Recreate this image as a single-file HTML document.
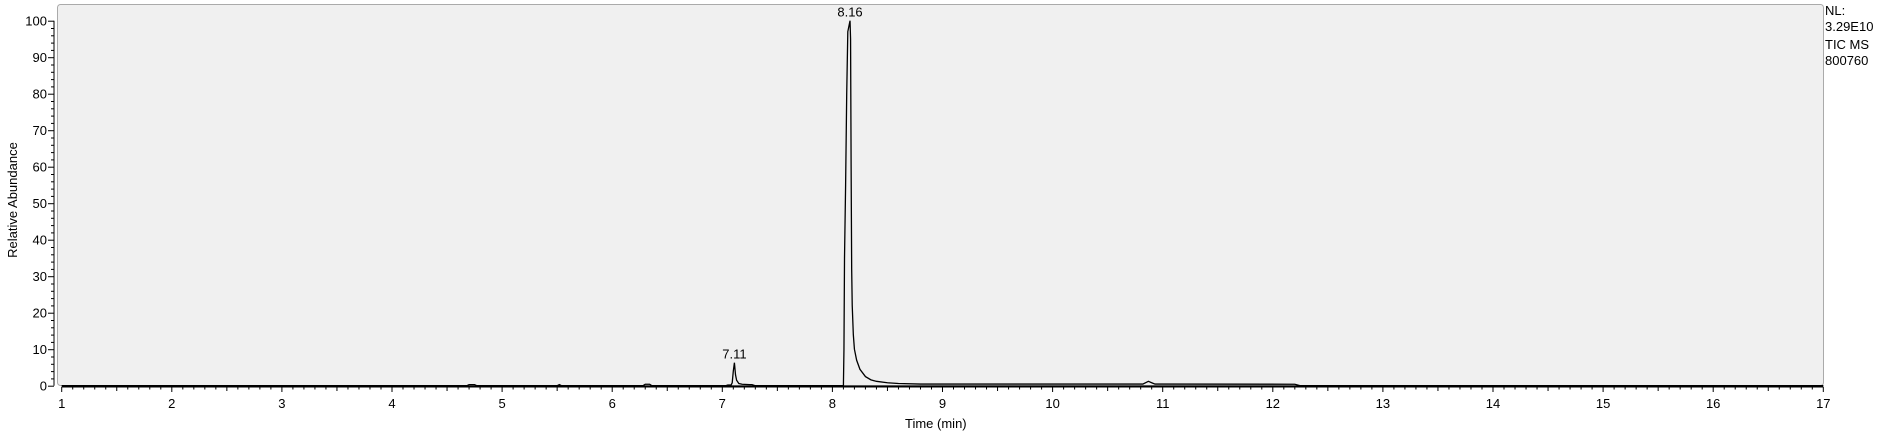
<!DOCTYPE html>
<html><head><meta charset="utf-8"><style>
html,body{margin:0;padding:0;background:#fff;}
svg{display:block;font-family:"Liberation Sans",Arial,sans-serif;}
</style></head><body>
<svg id="chart" width="1880" height="438" viewBox="0 0 1880 438" xmlns="http://www.w3.org/2000/svg">
<rect x="57.5" y="4.5" width="1766" height="381" rx="3" fill="#f0f0f0" stroke="#aaa" stroke-width="1"/>
<g id="yaxis"></g>
<g id="xaxis"></g>
<path id="trace" fill="none" stroke="#000" stroke-width="1.3"/>
<g id="labels"></g>
<text transform="translate(17,200) rotate(-90)" text-anchor="middle" font-size="13" fill="#000">Relative Abundance</text>
<text x="905" y="428" font-size="13" fill="#000">Time (min)</text>
<g font-size="13" fill="#000">
<text x="1825" y="15">NL:</text>
<text x="1825" y="31">3.29E10</text>
<text x="1825" y="49">TIC  MS</text>
<text x="1825" y="65">800760</text>
</g>
</svg>
<script>
const times = [1,4.68,4.70,4.72,4.75,4.77,5.50,5.52,5.54,6.28,6.30,6.34,6.36,7.03,7.05,7.08,7.09,7.10,7.11,7.12,7.13,7.15,7.18,7.25,7.27,7.30,8.10,8.105,8.11,8.12,8.13,8.14,8.16,8.165,8.17,8.175,8.18,8.19,8.20,8.22,8.25,8.30,8.35,8.40,8.50,8.60,8.80,10.82,10.85,10.87,10.90,10.93,12.20,12.25,17];
const values = [0,0,0.3,0.3,0.3,0,0,0.3,0,0,0.4,0.4,0,0,0.2,0.2,0.8,4,6.3,3,1.5,0.6,0.4,0.3,0.3,0,0,10,35,55,80,97,100,95,60,32,22,14,10,7,4.5,2.5,1.6,1.2,0.8,0.6,0.45,0.45,0.9,1.2,0.8,0.45,0.4,0,0];
const peakTimes = [7.11, 8.16];
const peakHeights = [6.3, 100];
const peakLabels = ["7.11","8.16"];
const xTicks = [1,2,3,4,5,6,7,8,9,10,11,12,13,14,15,16,17];
const yTicks = [0,10,20,30,40,50,60,70,80,90,100];

const X0=61.7, XS=110.1, Y0=385.7, YS=3.65;
const xs = t => X0 + (t-1)*XS;
const ys = v => Y0 - v*YS;
const NS="http://www.w3.org/2000/svg";
function mk(tag, attrs, parent){const e=document.createElementNS(NS,tag);for(const k in attrs)e.setAttribute(k,attrs[k]);parent.appendChild(e);return e;}

const ya=document.getElementById('yaxis');
mk('line',{x1:54,y1:ys(0),x2:54,y2:ys(100),stroke:'#000','stroke-width':1},ya);
for(let v=0; v<=100; v+=2){
  const major = v%10===0;
  const l=mk('line',{x1:major?48:51,y1:ys(v)+0.5,x2:54,y2:ys(v)+0.5,stroke:'#000','stroke-width':1},ya);
  
  
}
yTicks.forEach(v=>{
  const t=mk('text',{x:47,y:ys(v)+5,'text-anchor':'end','font-size':13,fill:'#000'},ya);
  t.textContent=v;
  
  
});

const xa=document.getElementById('xaxis');
mk('line',{x1:xs(1),y1:386.5,x2:xs(17),y2:386.5,stroke:'#000','stroke-width':2},xa);
for(let i=0;i<=160;i++){
  const t=1+i/10;
  const major=i%10===0, mid=i%5===0;
  const l=mk('line',{x1:xs(t),y1:387,x2:xs(t),y2:major?392:(mid?391:389.5),stroke:'#000','stroke-width':1},xa);
  
  
}
xTicks.forEach(v=>{
  const t=mk('text',{x:xs(v),y:408,'text-anchor':'middle','font-size':13,fill:'#000'},xa);
  t.textContent=v;
  
  
});

let d='';
times.forEach((t,i)=>{d+=(i?'L':'M')+xs(t).toFixed(2)+' '+ys(values[i]).toFixed(2);});
document.getElementById('trace').setAttribute('d',d);

const lg=document.getElementById('labels');
peakTimes.forEach((t,i)=>{
  const e=mk('text',{x:xs(t),y:ys(peakHeights[i])-4,'text-anchor':'middle','font-size':13,fill:'#000'},lg);
  e.textContent=peakLabels[i];
  
  
});
</script>
</body></html>
